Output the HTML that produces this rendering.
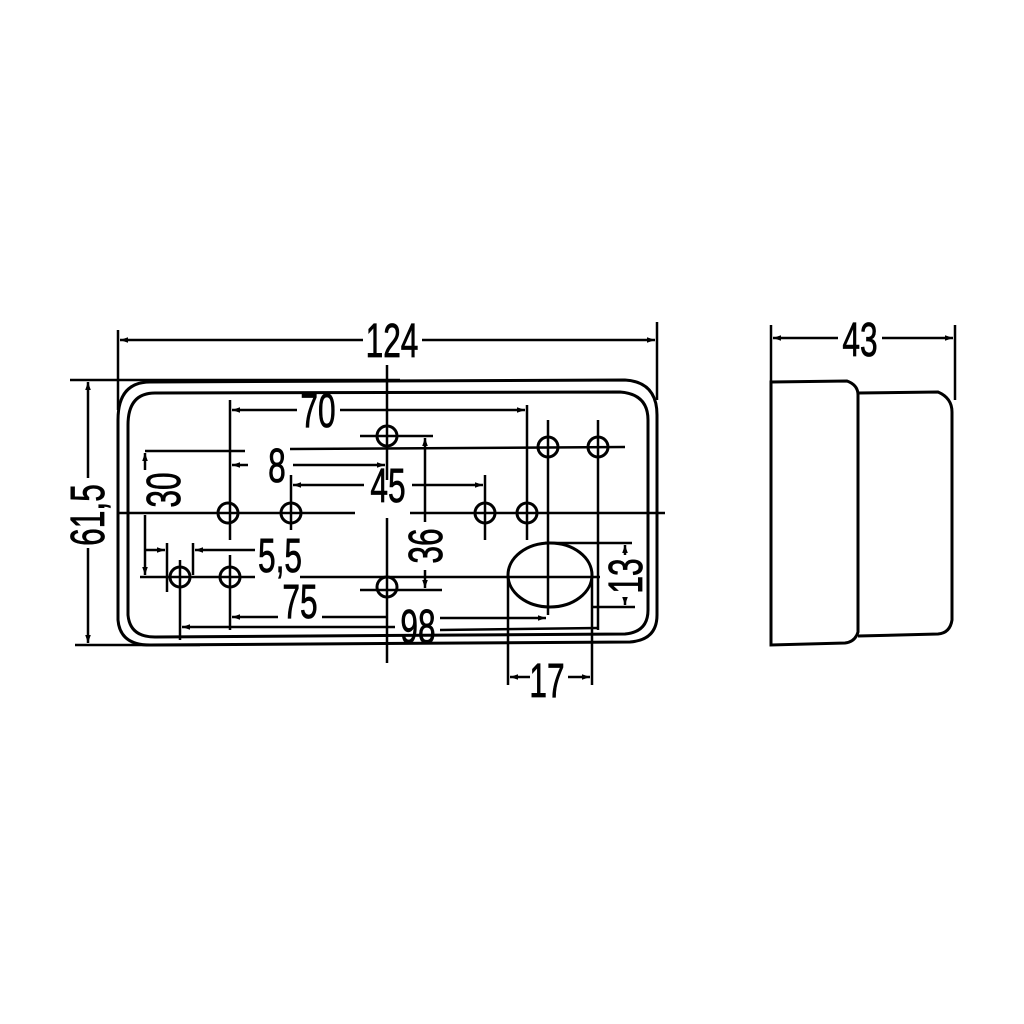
<!DOCTYPE html>
<html><head><meta charset="utf-8"><style>html,body{margin:0;padding:0;background:#fff}svg{display:block}
text{font-family:"Liberation Sans",sans-serif;font-size:48px;fill:#000;stroke:#000;stroke-width:0.8}</style></head><body>
<svg width="1024" height="1024" viewBox="0 0 1024 1024" xmlns="http://www.w3.org/2000/svg">
<defs>
<marker id="a" viewBox="0 0 10 10" refX="10" refY="5" markerWidth="14" markerHeight="8" markerUnits="userSpaceOnUse" orient="auto-start-reverse"><path d="M0,1.5 L10,5 L0,8.5 Z" fill="#000"/></marker>
</defs>
<g fill="none" stroke="#000" stroke-width="2.5">
<path d="M118,420 Q118,382 150,382 L625,380 Q657,382 657,415 L657,615 Q657,640 630,642 L150,645 Q120,645 118,620 Z" stroke-width="3"/>
<path d="M128,425 Q128,393 155,393 L620,392 Q648,394 648,420 L648,610 Q648,632 625,634 L155,637 Q130,637 128,615 Z" stroke-width="3"/>
<g stroke-width="3">
<circle cx="387" cy="436" r="10"/><circle cx="548" cy="447" r="10"/><circle cx="598" cy="447" r="10"/>
<circle cx="228" cy="513" r="10"/><circle cx="291" cy="513" r="10"/><circle cx="485" cy="513" r="10"/><circle cx="527" cy="513" r="10"/>
<circle cx="180" cy="577" r="10"/><circle cx="230" cy="577" r="10"/><circle cx="387" cy="587" r="10"/>
<ellipse cx="550" cy="575" rx="42" ry="32"/>
</g>
<line x1="387" y1="365" x2="387" y2="480"/><line x1="387" y1="518" x2="387" y2="663"/>
<line x1="118" y1="513" x2="355" y2="513"/><line x1="410" y1="513" x2="665" y2="513"/>
<line x1="230" y1="400" x2="230" y2="540"/><line x1="230" y1="555" x2="230" y2="630"/>
<line x1="548" y1="420" x2="548" y2="615"/><line x1="598" y1="420" x2="598" y2="630"/>
<line x1="527" y1="405" x2="527" y2="540"/><line x1="485" y1="475" x2="485" y2="540"/>
<line x1="291" y1="475" x2="291" y2="530"/><line x1="180" y1="560" x2="180" y2="640"/>
<line x1="360" y1="436" x2="433" y2="436"/><line x1="290" y1="449" x2="625" y2="447"/>
<line x1="140" y1="577" x2="255" y2="577"/><line x1="300" y1="577" x2="600" y2="577"/>
<line x1="360" y1="590" x2="442" y2="590"/>
<line x1="118" y1="330" x2="118" y2="410"/><line x1="657" y1="322" x2="657" y2="400"/>
<line x1="120" y1="340" x2="363" y2="340" marker-start="url(#a)"/><line x1="422" y1="340" x2="655" y2="340" marker-end="url(#a)"/>
<line x1="70" y1="380" x2="400" y2="380"/><line x1="75" y1="645" x2="200" y2="645"/>
<line x1="88" y1="382" x2="88" y2="478" marker-start="url(#a)"/><line x1="88" y1="548" x2="88" y2="643" marker-end="url(#a)"/>
<line x1="232" y1="410" x2="297" y2="410" marker-start="url(#a)"/><line x1="340" y1="410" x2="525" y2="410" marker-end="url(#a)"/>
<line x1="145" y1="451" x2="245" y2="451"/>
<line x1="232" y1="465" x2="248" y2="465" marker-start="url(#a)"/><line x1="293" y1="465" x2="385" y2="465" marker-end="url(#a)"/>
<line x1="293" y1="485" x2="364" y2="485" marker-start="url(#a)"/><line x1="412" y1="485" x2="483" y2="485" marker-end="url(#a)"/>
<line x1="145" y1="453" x2="145" y2="470" marker-start="url(#a)"/><line x1="145" y1="515" x2="145" y2="575" marker-end="url(#a)"/>
<line x1="145" y1="550" x2="165" y2="550" marker-end="url(#a)"/><line x1="195" y1="550" x2="255" y2="550" marker-start="url(#a)"/>
<line x1="167" y1="543" x2="167" y2="592"/><line x1="193" y1="543" x2="193" y2="575"/>
<line x1="232" y1="617" x2="278" y2="617" marker-start="url(#a)"/><line x1="322" y1="617" x2="387" y2="617"/>
<line x1="182" y1="627" x2="395" y2="627" marker-start="url(#a)"/><line x1="440" y1="618" x2="546" y2="618" marker-end="url(#a)"/>
<line x1="440" y1="630" x2="598" y2="628"/>
<line x1="425" y1="438" x2="425" y2="522" marker-start="url(#a)"/><line x1="425" y1="570" x2="425" y2="588" marker-end="url(#a)"/>
<line x1="545" y1="543" x2="632" y2="543"/><line x1="592" y1="607" x2="635" y2="607"/>
<line x1="625" y1="545" x2="625" y2="555" marker-start="url(#a)"/><line x1="625" y1="597" x2="625" y2="605" marker-end="url(#a)"/>
<line x1="508" y1="575" x2="508" y2="685"/><line x1="592" y1="575" x2="592" y2="685"/>
<line x1="510" y1="677" x2="530" y2="677" marker-start="url(#a)"/><line x1="568" y1="677" x2="590" y2="677" marker-end="url(#a)"/>
<path d="M771,382 L847,381 Q858,385 858,395 L858,632 Q855,642 845,643 L771,645 Z" stroke-width="3"/>
<path d="M858,393 L938,392 Q952,398 952,412 L952,620 Q950,633 938,634 L858,636" stroke-width="3"/>
<line x1="771" y1="325" x2="771" y2="382"/><line x1="955" y1="325" x2="955" y2="400"/>
<line x1="773" y1="338" x2="838" y2="338" marker-start="url(#a)"/><line x1="882" y1="338" x2="953" y2="338" marker-end="url(#a)"/>
</g>
<g text-anchor="middle">
<text transform="translate(392,357) scale(0.66,1)">124</text>
<text transform="translate(318,427) scale(0.66,1)">70</text>
<text transform="translate(277,482) scale(0.66,1)">8</text>
<text transform="translate(388,502) scale(0.66,1)">45</text>
<text transform="translate(280,572) scale(0.66,1)">5,5</text>
<text transform="translate(300,618) scale(0.66,1)">75</text>
<text transform="translate(418,643) scale(0.66,1)">98</text>
<text transform="translate(547,697) scale(0.66,1)">17</text>
<text transform="translate(860,356) scale(0.66,1)">43</text>
<text transform="translate(104,515) rotate(-90) scale(0.66,1)">61,5</text>
<text transform="translate(180,490) rotate(-90) scale(0.66,1)">30</text>
<text transform="translate(442,546) rotate(-90) scale(0.66,1)">36</text>
<text transform="translate(642,576) rotate(-90) scale(0.66,1)">13</text>
</g>
</svg>
</body></html>
